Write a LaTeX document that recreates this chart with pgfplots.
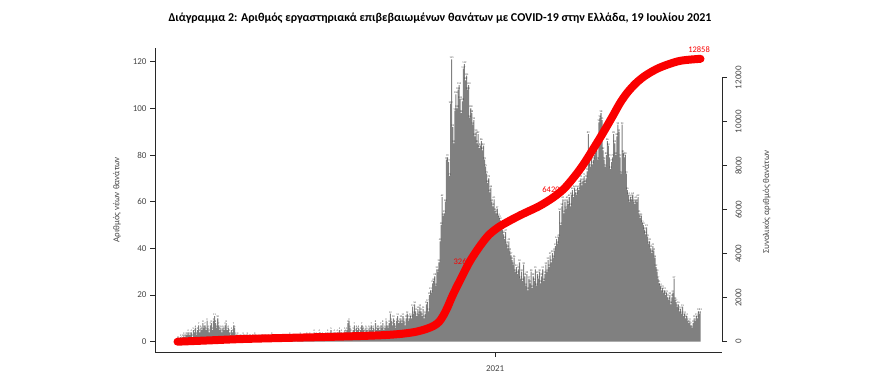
\documentclass[border=0pt]{standalone}
\usepackage{fontspec}
\setmainfont{Carlito}
\usepackage{pgfplots}
\pgfplotsset{compat=1.18}
\definecolor{barcol}{RGB}{128,128,128}
\definecolor{linered}{RGB}{250,0,0}
\definecolor{axcol}{RGB}{40,40,40}
\definecolor{txtcol}{RGB}{70,70,70}
\begin{document}
\begin{tikzpicture}
\path[use as bounding box] (0,0) rectangle (880pt,376pt);
\node[font=\bfseries\fontsize{12}{14}\selectfont] at (440pt,358pt) {Διάγραμμα 2: Αριθμός εργαστηριακά επιβεβαιωμένων θανάτων με COVID-19 στην Ελλάδα, 19 Ιουλίου 2021};
\begin{axis}[
  at={(155pt,24pt)}, anchor=south west,
  scale only axis, width=567pt, height=304pt,
  xmin=-21.25, xmax=514.3, ymin=-4.41, ymax=125.87,
  axis x line*=bottom, axis y line*=left,
  axis line style={draw=axcol, line width=0.8pt, -},
  xtick={300}, xticklabels={2021},
  ytick={0,20,...,120},
  tick align=outside, major tick length=5pt,
  tick style={draw=axcol, line width=0.8pt},
  ticklabel style={font=\fontsize{9}{10}\selectfont, text=txtcol},
  /pgf/number format/assume math mode=true,
  xticklabel style={yshift=-5pt},
  clip=false,
]
\addplot[const plot mark mid, fill=barcol, draw=none, mark=none,
  nodes near coords,
  every node near coord/.append style={font=\fontsize{2.6}{3}\selectfont, text=black!80, inner sep=0.4pt, anchor=south}]
coordinates {
(0,1)(1,1)(2,0)(3,2)(4,1)(5,2)(6,3)(7,2)(8,3)(9,3)
(10,4)(11,3)(12,3)(13,4)(14,2)(15,5)(16,4)(17,6)(18,3)(19,5)
(20,7)(21,4)(22,6)(23,5)(24,8)(25,6)(26,7)(27,5)(28,9)(29,6)
(30,4)(31,7)(32,8)(33,5)(34,9)(35,11)(36,8)(37,6)(38,10)(39,7)
(40,5)(41,6)(42,4)(43,6)(44,5)(45,7)(46,8)(47,5)(48,6)(49,4)
(50,3)(51,5)(52,4)(53,7)(54,6)(55,3)(56,2)(57,3)(58,1)(59,2)
(60,2)(61,1)(62,3)(63,2)(64,1)(65,2)(66,3)(67,1)(68,2)(69,2)
(70,1)(71,2)(72,1)(73,3)(74,2)(75,1)(76,0)(77,2)(78,1)(79,2)
(80,2)(81,1)(82,1)(83,2)(84,0)(85,1)(86,2)(87,1)(88,1)(89,3)
(90,1)(91,0)(92,2)(93,1)(94,1)(95,2)(96,1)(97,0)(98,1)(99,2)
(100,2)(101,1)(102,0)(103,1)(104,2)(105,1)(106,3)(107,1)(108,2)(109,1)
(110,1)(111,2)(112,0)(113,1)(114,1)(115,2)(116,3)(117,1)(118,2)(119,2)
(120,1)(121,2)(122,3)(123,2)(124,1)(125,3)(126,2)(127,1)(128,2)(129,4)
(130,2)(131,3)(132,1)(133,2)(134,4)(135,3)(136,2)(137,3)(138,1)(139,2)
(140,3)(141,2)(142,4)(143,2)(144,3)(145,5)(146,2)(147,3)(148,4)(149,3)
(150,2)(151,4)(152,3)(153,5)(154,3)(155,4)(156,2)(157,3)(158,5)(159,4)
(160,5)(161,8)(162,9)(163,6)(164,4)(165,3)(166,5)(167,7)(168,4)(169,6)
(170,5)(171,6)(172,4)(173,5)(174,7)(175,6)(176,5)(177,4)(178,6)(179,5)
(180,4)(181,6)(182,5)(183,7)(184,5)(185,6)(186,4)(187,8)(188,5)(189,6)
(190,6)(191,5)(192,7)(193,6)(194,8)(195,5)(196,6)(197,9)(198,7)(199,6)
(200,8)(201,12)(202,9)(203,7)(204,10)(205,8)(206,6)(207,9)(208,11)(209,8)
(210,9)(211,10)(212,8)(213,11)(214,9)(215,7)(216,10)(217,12)(218,9)(219,10)
(220,11)(221,10)(222,15)(223,12)(224,16)(225,13)(226,11)(227,14)(228,12)(229,15)
(230,13)(231,11)(232,14)(233,10)(234,12)(235,16)(236,17)(237,13)(238,20)(239,22)
(240,21)(241,25)(242,26)(243,28)(244,24)(245,31)(246,30)(247,34)(248,43)(249,50)
(250,62)(251,54)(252,55)(253,60)(254,78)(255,79)(256,77)(257,71)(258,102)(259,121)
(260,92)(261,85)(262,99)(263,106)(264,100)(265,108)(266,110)(267,104)(268,98)(269,103)
(270,117)(271,119)(272,112)(273,114)(274,108)(275,110)(276,96)(277,100)(278,98)(279,93)
(280,95)(281,88)(282,90)(283,85)(284,89)(285,83)(286,84)(287,86)(288,82)(289,84)
(290,78)(291,75)(292,72)(293,68)(294,70)(295,64)(296,66)(297,60)(298,58)(299,61)
(300,56)(301,55)(302,57)(303,54)(304,53)(305,52)(306,50)(307,48)(308,46)(309,44)
(310,47)(311,42)(312,40)(313,43)(314,39)(315,37)(316,35)(317,33)(318,36)(319,30)
(320,32)(321,29)(322,31)(323,34)(324,27)(325,30)(326,26)(327,33)(328,28)(329,24)
(330,29)(331,22)(332,27)(333,25)(334,30)(335,23)(336,28)(337,26)(338,31)(339,24)
(340,29)(341,27)(342,30)(343,25)(344,28)(345,31)(346,26)(347,29)(348,33)(349,30)
(350,35)(351,32)(352,37)(353,34)(354,38)(355,36)(356,39)(357,41)(358,44)(359,42)
(360,45)(361,56)(362,50)(363,58)(364,61)(365,55)(366,60)(367,57)(368,61)(369,59)
(370,62)(371,58)(372,63)(373,65)(374,62)(375,66)(376,64)(377,63)(378,66)(379,65)
(380,68)(381,70)(382,67)(383,69)(384,71)(385,68)(386,70)(387,73)(388,89)(389,77)
(390,75)(391,79)(392,76)(393,78)(394,80)(395,81)(396,82)(397,78)(398,94)(399,96)
(400,98)(401,95)(402,82)(403,78)(404,75)(405,80)(406,86)(407,84)(408,79)(409,74)
(410,77)(411,79)(412,89)(413,85)(414,80)(415,88)(416,93)(417,90)(418,79)(419,72)
(420,93)(421,81)(422,79)(423,80)(424,72)(425,65)(426,63)(427,60)(428,62)(429,61)
(430,63)(431,60)(432,59)(433,61)(434,60)(435,62)(436,55)(437,53)(438,54)(439,51)
(440,50)(441,48)(442,46)(443,49)(444,45)(445,42)(446,43)(447,40)(448,38)(449,41)
(450,39)(451,36)(452,32)(453,30)(454,27)(455,25)(456,24)(457,22)(458,23)(459,21)
(460,22)(461,20)(462,21)(463,19)(464,18)(465,20)(466,16)(467,19)(468,21)(469,27)
(470,18)(471,17)(472,15)(473,16)(474,13)(475,14)(476,12)(477,15)(478,11)(479,12)
(480,10)(481,11)(482,9)(483,8)(484,9)(485,7)(486,6)(487,8)(488,10)(489,9)
(490,11)(491,10)(492,13)(493,12)(494,13)
} \closedcycle;
\node[rotate=90, font=\fontsize{9}{10}\selectfont, text=txtcol] at (rel axis cs:-0.067,0.5) {Αριθμός νέων θανάτων};
\end{axis}
\begin{axis}[
  at={(155pt,24pt)}, anchor=south west,
  scale only axis, width=567pt, height=304pt,
  xmin=-21.25, xmax=514.3, ymin=-468, ymax=13350,
  hide x axis,
  axis y line*=right,
  y axis line style={draw=none},
  ytick={0,2000,...,12000},
  scaled y ticks=false,
  tick align=outside, major tick length=5pt,
  tick style={draw=axcol, line width=0.8pt},
  yticklabel shift=5pt,
  yticklabel style={font=\fontsize{9}{10}\selectfont, text=txtcol, rotate=90, anchor=north},
  /pgf/number format/1000 sep={},
  /pgf/number format/assume math mode=true,
  clip=false,
]
\draw[axcol, line width=0.8pt] (axis cs:514.3,0) -- (axis cs:514.3,12000);
\node[text=linered, font=\fontsize{8.5}{10}\selectfont] at (axis cs:269,3623) {3260};
\node[text=linered, font=\fontsize{8.5}{10}\selectfont] at (axis cs:352.8,6895) {6420};
\node[text=linered, font=\fontsize{8.5}{10}\selectfont] at (axis cs:492.6,13259) {12858};
\addplot[linered, line width=8pt, line cap=round, line join=round, smooth, tension=0.5, mark=none] coordinates {
(0,1) (30,60) (60,120) (100,170) (140,215) (170,255) (195,300) (212,360) (225,450) (235,580) (242,720) (247,900) (251,1180) (255,1560) (260,2120) (267,2800) (276,3640) (285.7,4350) (294,4850) (303,5200) (313,5480) (325,5780) (342,6170) (355,6560) (365,6950) (374,7450) (383,8030) (392.5,8750) (402,9500) (411,10250) (418,10850) (425,11330) (433,11750) (442,12100) (455,12450) (474,12760) (494,12858)
};
\node[rotate=90, font=\fontsize{9}{10}\selectfont, text=txtcol] at (rel axis cs:1.079,0.493) {Συνολικός αριθμός θανάτων};
\end{axis}
\end{tikzpicture}
\end{document}
